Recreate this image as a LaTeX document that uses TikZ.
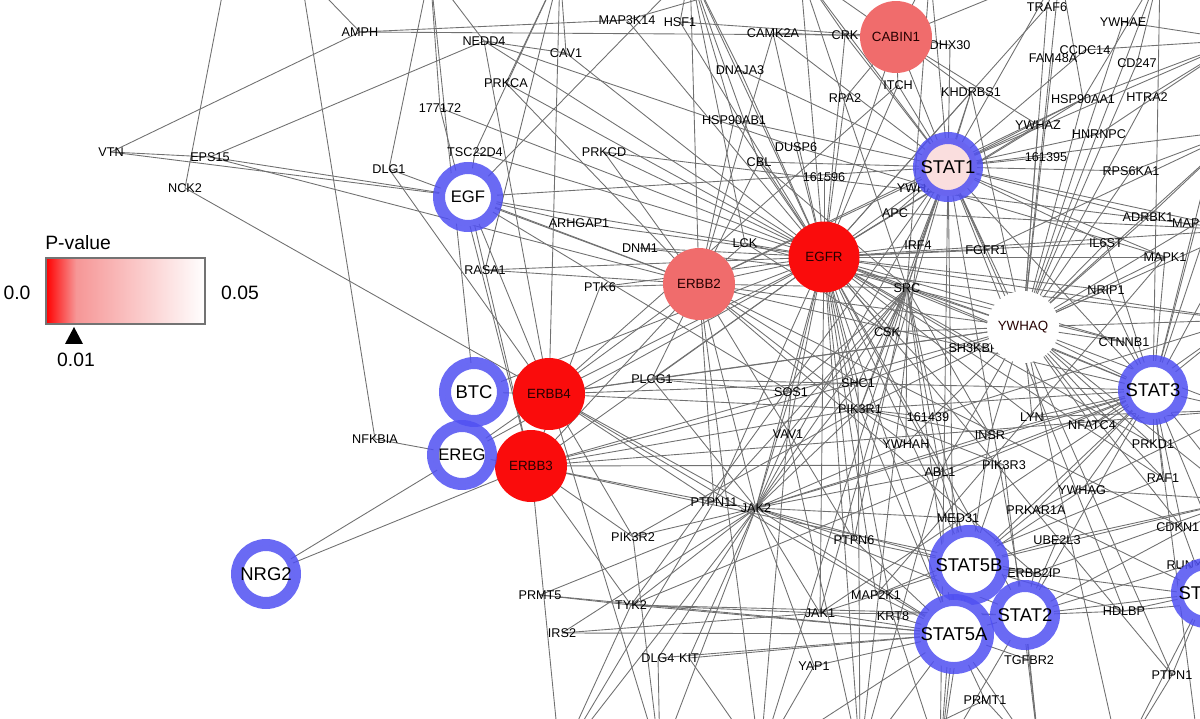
\documentclass[tikz,border=0pt]{standalone}
\usepackage{fontspec}
\setmainfont{Liberation Sans}
\pgfdeclarelayer{bg}
\pgfsetlayers{bg,main}
\definecolor{ringblue}{RGB}{80,80,242}
\definecolor{edgegray}{RGB}{112,112,112}
\definecolor{salmon}{RGB}{240,108,108}
\definecolor{pale}{RGB}{250,222,222}
\definecolor{hotred}{RGB}{250,12,12}
\tikzset{
  lab/.style={inner sep=0pt, font=\fontsize{7.2pt}{8pt}\selectfont},
  ring/.style={circle, draw=ringblue, draw opacity=0.85, line width=0.24cm, fill=white, minimum size=1.16cm, inner sep=0pt, font=\fontsize{10.5pt}{11pt}\selectfont},
  blob/.style={circle, minimum size=1.44cm, inner sep=0pt, font=\fontsize{7.6pt}{8pt}\selectfont, text=black!85!red},
  edge/.style={draw=edgegray, line width=0.5pt},
  legtxt/.style={inner sep=0pt, font=\fontsize{11pt}{12pt}\selectfont}
}
\begin{document}
\begin{tikzpicture}[x=0.02cm,y=-0.02cm]
\useasboundingbox (0,0) rectangle (1200,719);
\clip (0,0) rectangle (1200,719);
% off-canvas anchor points
\foreach \n/\x/\y in {T0/227/-30,T1/300/-30,T2/430/-30,T3/560/-30,T4/690/-30,T5/800/-30,T6/930/-30,T7/1060/-30,T8/1160/-30,
  R1/1240/40,R2/1240/130,R3/1240/230,R4/1240/320,R5/1240/410,R6/1240/500,R7/1240/600,R8/1240/690,
  B0/560/760,B1/660/760,B2/760/760,B3/860/760,B4/940/760,B5/1040/760,B6/1120/760,B7/1200/760}
  \coordinate (\n) at (\x,\y);
% small labels
\foreach \n/\x/\y/\t in {AMPH/360/32/AMPH,NEDD4/484/41/NEDD4,MAPKKK/627/20/MAP3K14,HSF1/680/22/HSF1,CAV1/566/53/CAV1,
  PRKCA/506/83/PRKCA,nA/440/108/177172,CAMKIIA/773/33/CAMK2A,CRK/845/35/CRK,DHX/950/45/DHX30,TRAF/1047/7/TRAF6,
  YWHAE/1123/22/YWHAE,CCDC/1085/50/CCDC14,FAM/1053/58/FAM48A,CD/1137/63/CD247,DNAJA/740/70/DNAJA3,ITCH/898/85/ITCH,
  KHDRBS/971/92/KHDRBS1,HSPAA/1083/99/HSP90AA1,HTRA/1147/97/HTRA2,RPA/845/98/RPA2,HSPAB/734/120/HSP90AB1,
  YWHAZ/1038/125/YWHAZ,HNRNPC/1099/134/HNRNPC,DUSP/796/147/DUSP6,CBL/759/162/CBL,nB/824/177/161596,YWHAB/920/188/YWHAB,
  nC/1046/157/161395,RPSK/1131/171/RPS6KA1,APC/895/213/APC,ADRBK/1148/217/ADRBK1,MAPKx/1197/223/MAPK14,LCK/745/243/LCK,
  IRF/918/245/IRF4,FGFR/986/250/FGFR1,ILST/1106/243/IL6ST,MAPKa/1165/257/MAPK1,SRC/907/288/SRC,NRIP/1106/290/NRIP1,
  TSC/475/152/TSC22D4,DLG/389/169/DLG1,EPS/210/157/EPS15,VTN/111/152/VTN,NCK/185/188/NCK2,PRKCD/604/152/PRKCD,
  ARHGAP/579/223/ARHGAP1,DNM/640/248/DNM1,RASA/485/270/RASA1,PTK/600/287/PTK6,
  CSK/887/332/CSK,SH/977/348/SH3KBP1,CTNNB/1124/342/CTNNB1,PLCG/652/379/PLCG1,SOS/791/392/SOS1,SHC/858/383/SHC1,
  PIKRa/860/409/PIK3R1,nD/928/417/161439,LYN/1032/417/LYN,NFATC/1092/425/NFATC4,VAV/788/434/VAV1,YWHAH/906/444/YWHAH,
  INSR/990/435/INSR,PRKD/1153/444/PRKD1,ABL/940/472/ABL1,PIKRc/1004/465/PIK3R3,RAF/1163/478/RAF1,YWHAG/1082/490/YWHAG,
  PRKAR/1036/510/PRKAR1A,MED/958/518/MED31,CDKN/1182/527/CDKN1B,PTPNxi/714/502/PTPN11,JAKb/756/508/JAK2,
  PIKRb/633/537/PIK3R2,PTPNvi/854/540/PTPN6,UBE/1057/540/UBE2L3,EIP/1034/573/ERBB2IP,RUNX/1188/565/RUNX1,
  MAPKK/876/595/MAP2K1,TYK/631/605/TYK2,JAKa/820/613/JAK1,KRT/893/616/KRT8,HDLBP/1124/611/HDLBP,
  PRMTv/540/595/PRMT5,IRS/562/633/IRS2,DLGiv/658/658/DLG4,KIT/689/658/KIT,YAP/814/666/YAP1,TGFBR/1029/660/TGFBR2,
  PTPNi/1172/675/PTPN1,PRMTi/985/700/PRMT1,NFKBIA/375/439/NFKBIA}
  \node[lab] (\n) at (\x,\y) {\t};
% big nodes
\node[blob, fill=salmon] (CABIN) at (896,37) {CABIN1};
\node[blob, fill=hotred, minimum size=1.42cm] (EGFR) at (824,257) {EGFR};
\node[blob, fill=salmon] (ERBBii) at (699,284) {ERBB2};
\node[blob, fill=white] (YWHAQ) at (1023,327) {YWHAQ};
\node[blob, fill=hotred] (ERBBiv) at (549,394) {ERBB4};
\node[blob, fill=hotred] (ERBBiii) at (531,466) {ERBB3};
\node[ring, fill=pale] (STATi) at (948,167) {STAT1};
\node[ring, font=\fontsize{9.5pt}{10pt}\selectfont] (EGF) at (468,197) {EGF};
\node[ring] (BTC) at (474,392) {BTC};
\node[ring, font=\fontsize{9.5pt}{10pt}\selectfont] (EREG) at (462,455) {EREG};
\node[ring] (NRG) at (266,574) {NRG2};
\node[ring] (STATiii) at (1153,390) {STAT3};
\node[ring] (STATvb) at (969,565) {STAT5B};
\node[ring] (STATii) at (1025,615) {STAT2};
\node[ring] (STATva) at (954,634) {STAT5A};
\node[ring] (STATiv) at (1206,593) {STAT4};
% edges
\begin{pgfonlayer}{bg}
\foreach \a/\b in {VTN/EPS,VTN/AMPH,VTN/EGF,EPS/EGF,EPS/NEDD4,EPS/ERBBii,NCK/T0,NCK/ERBBiv,AMPH/T1,AMPH/CRK,AMPH/MAPKKK,
  NEDD4/T2,NEDD4/EGFR,NEDD4/CAV1,NEDD4/ERBBiv,NEDD4/DUSP,CAV1/EGFR,CAV1/T3,PRKCA/EGFR,PRKCA/T3,PRKCA/ERBBii,nA/EGFR,nA/T2,nA/ERBBiii,
  DLG/ERBBii,DLG/T2,DLG/ERBBiv,TSC/EGF,TSC/T3,TSC/EGFR,EGF/EGFR,EGF/ERBBii,EGF/ERBBiii,EGF/ERBBiv,EGF/T4,EGF/SOS,EGF/STATi,
  PRKCD/EGFR,PRKCD/ERBBii,PRKCD/R3,ARHGAP/EGFR,ARHGAP/EGF,DNM/EGFR,DNM/R4,RASA/EGFR,RASA/ERBBii,RASA/T3,PTK/ERBBii,PTK/EGFR,PTK/ERBBiii,
  BTC/EGFR,BTC/ERBBiv,BTC/T2,EREG/EGFR,EREG/ERBBiv,EREG/ERBBiii,NRG/EREG,NRG/ERBBiii,NFKBIA/EREG,NFKBIA/T1,
  ERBBiv/ERBBii,ERBBiv/EGFR,ERBBiv/PLCG,ERBBiv/PIKRa,ERBBiv/STATva,ERBBiv/SHC,ERBBiv/PTPNxi,ERBBiv/ITCH,ERBBiv/T3,ERBBiv/PIKRb,ERBBiv/B1,ERBBiv/YWHAQ,ERBBiv/JAKb,
  ERBBiii/ERBBii,ERBBiii/EGFR,ERBBiii/PIKRa,ERBBiii/PIKRb,ERBBiii/PIKRc,ERBBiii/SHC,ERBBiii/PTPNxi,ERBBiii/EIP,ERBBiii/B0,ERBBiii/TYK,ERBBiii/R5,ERBBiii/SOS,
  ERBBii/EGFR,ERBBii/STATi,ERBBii/CBL,ERBBii/HSPAA,ERBBii/SRC,ERBBii/PLCG,ERBBii/PIKRa,ERBBii/SHC,ERBBii/EIP,ERBBii/PTPNxi,ERBBii/LCK,ERBBii/YWHAQ,
  ERBBii/STATiii,ERBBii/T4,ERBBii/CAMKIIA,ERBBii/B2,ERBBii/JAKb,ERBBii/CDKN,ERBBii/HSPAB,ERBBii/PTPNvi,
  EGFR/STATi,EGFR/STATiii,EGFR/STATva,EGFR/STATvb,EGFR/YWHAQ,EGFR/SRC,EGFR/CBL,EGFR/SHC,EGFR/PLCG,EGFR/SOS,EGFR/PIKRa,EGFR/JAKb,EGFR/CSK,EGFR/CRK,
  EGFR/CABIN,EGFR/DNAJA,EGFR/HSPAB,EGFR/CAMKIIA,EGFR/MAPKKK,EGFR/HSF1,EGFR/ITCH,EGFR/KHDRBS,EGFR/RPA,EGFR/DUSP,EGFR/APC,EGFR/IRF,EGFR/FGFR,
  EGFR/ILST,EGFR/MAPKa,EGFR/PRKD,EGFR/NRIP,EGFR/CTNNB,EGFR/R3,EGFR/R4,EGFR/PTPNxi,EGFR/PTPNvi,EGFR/VAV,EGFR/ABL,EGFR/INSR,EGFR/LYN,EGFR/YWHAZ,
  EGFR/STATii,EGFR/B3,EGFR/JAKa,EGFR/KRT,EGFR/TRAF,EGFR/T5,EGFR/PTPNi,EGFR/RAF,EGFR/nB,EGFR/MAPKK,EGFR/HSPAA,EGFR/SH,EGFR/T4,
  STATi/JAKa,STATi/JAKb,STATi/TYK,STATi/STATii,STATi/STATiii,STATi/SRC,STATi/YWHAQ,STATi/IRF,STATi/CABIN,STATi/CRK,STATi/HSPAA,STATi/YWHAZ,
  STATi/HNRNPC,STATi/RPSK,STATi/T6,STATi/T7,STATi/R1,STATi/R2,STATi/R3,STATi/MAPKa,STATi/PIKRa,STATi/FGFR,STATi/APC,STATi/CBL,STATi/nC,
  STATi/KHDRBS,STATi/ITCH,STATi/DHX,STATi/CCDC,STATi/ADRBK,STATi/ILST,STATi/B4,STATi/STATva,STATi/PTPNi,STATi/HDLBP,STATi/T5,STATi/CAMKIIA,STATi/DNAJA,STATi/HSPAB,
  YWHAQ/R2,YWHAQ/R3,YWHAQ/R4,YWHAQ/R5,YWHAQ/R6,YWHAQ/STATiii,YWHAQ/CTNNB,YWHAQ/NRIP,YWHAQ/SRC,YWHAQ/CSK,YWHAQ/ABL,YWHAQ/INSR,YWHAQ/LYN,
  YWHAQ/RAF,YWHAQ/PRKD,YWHAQ/MAPKa,YWHAQ/ILST,YWHAQ/ADRBK,YWHAQ/RPSK,YWHAQ/HSPAA,YWHAQ/YWHAZ,YWHAQ/CD,YWHAQ/YWHAE,YWHAQ/T7,YWHAQ/KHDRBS,
  YWHAQ/PIKRa,YWHAQ/SHC,YWHAQ/YWHAH,YWHAQ/SOS,YWHAQ/NFATC,YWHAQ/CDKN,YWHAQ/B6,YWHAQ/HTRA,YWHAQ/FAM,YWHAQ/TRAF,YWHAQ/PLCG,YWHAQ/MAPKx,YWHAQ/T8,
  STATiii/R1,STATiii/R2,STATiii/R3,STATiii/R4,STATiii/R5,STATiii/R6,STATiii/R7,STATiii/JAKb,STATiii/JAKa,STATiii/SRC,STATiii/PIKRa,STATiii/STATvb,
  STATiii/STATii,STATiii/LYN,STATiii/NFATC,STATiii/PRKD,STATiii/RAF,STATiii/ILST,STATiii/MAPKa,STATiii/CTNNB,STATiii/NRIP,STATiii/YWHAG,
  STATiii/PRKAR,STATiii/ABL,STATiii/INSR,STATiii/CDKN,STATiii/B7,STATiii/PLCG,STATiii/TYK,STATiii/MAPKx,STATiii/T8,
  SRC/CSK,SRC/SHC,SRC/PIKRa,SRC/SOS,SRC/VAV,SRC/PTPNxi,SRC/JAKb,SRC/ABL,SRC/STATva,SRC/STATvb,SRC/CBL,SRC/LCK,SRC/KHDRBS,SRC/T5,SRC/PTPNvi,
  SRC/CTNNB,SRC/INSR,SRC/YWHAH,SRC/T6,SRC/B2,
  JAKb/PTPNxi,JAKb/PIKRb,JAKb/PIKRa,JAKb/JAKa,JAKb/TYK,JAKb/STATva,JAKb/STATvb,JAKb/STATii,JAKb/PTPNvi,JAKb/SHC,JAKb/SOS,JAKb/VAV,JAKb/B1,
  JAKb/DLGiv,JAKb/IRS,JAKb/PRMTv,JAKb/YAP,JAKb/KIT,JAKb/ABL,JAKb/INSR,JAKb/MED,JAKb/PLCG,JAKb/YWHAH,JAKb/B0,
  STATva/STATvb,STATva/STATii,STATva/JAKa,STATva/MAPKK,STATva/KRT,STATva/TGFBR,STATva/PRMTi,STATva/B3,STATva/B4,STATva/YAP,STATva/KIT,
  STATva/DLGiv,STATva/TYK,STATva/PRMTv,STATva/IRS,STATva/PTPNvi,STATva/B2,STATva/PIKRa,STATva/B5,
  STATvb/MED,STATvb/UBE,STATvb/EIP,STATvb/PRKAR,STATvb/YWHAG,STATvb/PTPNvi,STATvb/PIKRc,STATvb/ABL,STATvb/HDLBP,STATvb/R6,STATvb/R7,STATvb/JAKa,
  STATii/EIP,STATii/TGFBR,STATii/HDLBP,STATii/JAKa,STATii/TYK,STATii/STATiv,STATii/R6,STATii/B4,STATii/B5,STATii/RUNX,STATii/UBE,
  STATiv/PTPNi,STATiv/R5,STATiv/R7,STATiv/B7,STATiv/HDLBP,STATiv/CDKN,STATiv/RUNX,STATiv/B6,STATiv/PRKAR,
  CABIN/T5,CABIN/T6,CABIN/CAMKIIA,CABIN/DHX,CABIN/ITCH,CABIN/YWHAZ,CABIN/HSF1,CABIN/KHDRBS,CABIN/T7,CABIN/RPA,
  HSPAA/T7,HSPAA/T8,HSPAA/R1,PIKRa/PIKRc,PIKRa/PIKRb,PIKRa/nD,PIKRa/INSR,PIKRa/YWHAH,PLCG/SOS,TYK/JAKa,TYK/PRMTv,MAPKK/RAF,MAPKa/MAPKK,
  YAP/B2,PRMTi/B3,PRMTi/B5,TRAF/T7,YWHAE/R1,CCDC/R1,DNAJA/T4,HSPAB/T4,MAPKKK/T5,HSF1/T4,CRK/T5,DUSP/MAPKa,CBL/T4,LCK/T4,IRF/B3,
  KRT/B4,TGFBR/B5,PTPNi/B6,HDLBP/R7,RUNX/R7,ABL/B3,INSR/B4,PIKRc/B5,IRS/JAKa,DLGiv/B1,KIT/B2,MED/B4,UBE/R6,EIP/R6,PRKAR/R5,NFATC/R4,nD/R4,
  LYN/R5,YWHAG/R6,VAV/B3,SOS/B2,SHC/B3,PTPNxi/B0,PIKRb/B1,TYK/B0,CSK/LCK,FGFR/R2,APC/R3,ADRBK/R2,RPSK/R2,HNRNPC/R1,HTRA/R1,CD/T8}
  \draw[edge] (\a.center) -- (\b.center);
\end{pgfonlayer}
% legend
\node[legtxt, anchor=west] (pv) at (45,243) {P-value};
\shade[left color=red, right color={rgb,255:red,246;green,150;blue,150}] (46,258) rectangle (76,324);
\shade[left color={rgb,255:red,246;green,150;blue,150}, right color=white] (76,258) rectangle (205,324);
\draw[draw=black!55, line width=0.6pt] (46,258) rectangle (205,324);
\node[legtxt] (lz) at (17,293) {0.0};
\node[legtxt] (lf) at (240,293) {0.05};
\fill[black] (74,327) -- (83,344) -- (65,344) -- cycle;
\node[legtxt] (lo) at (76,360) {0.01};
\end{tikzpicture}
\end{document}
